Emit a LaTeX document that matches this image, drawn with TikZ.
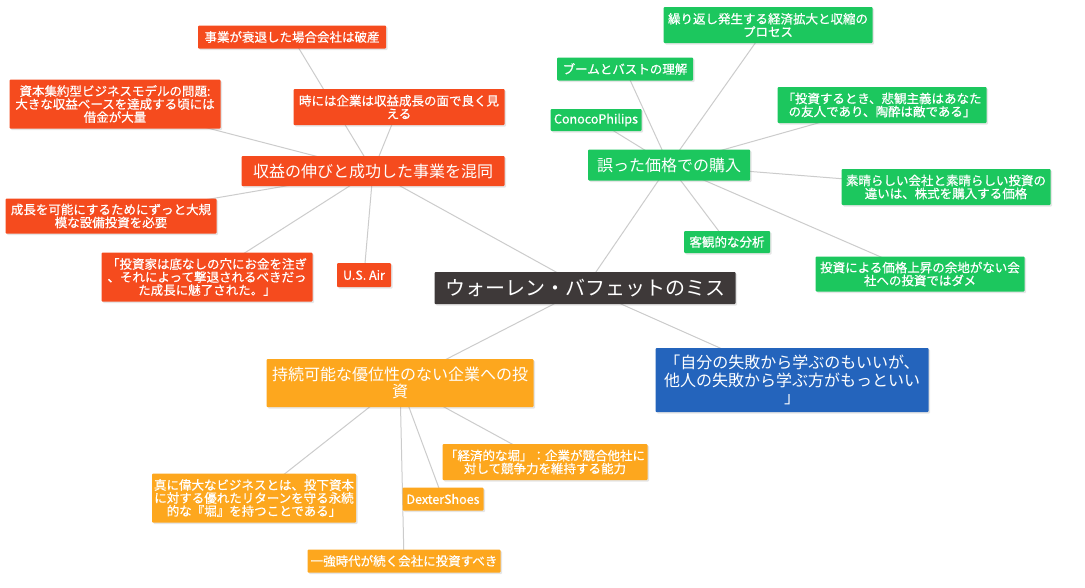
\documentclass[tikz,border=0pt]{standalone}
\usepackage{fontspec}
\setmainfont{Noto Sans CJK JP}
\newfontfamily\leaffont[FakeBold=0.6,AutoFakeBold=0.6]{Noto Sans CJK JP}
\usepackage{tikz}
\usetikzlibrary{shadows,backgrounds}
\definecolor{rootgray}{RGB}{62,57,57}
\definecolor{redtopic}{RGB}{245,75,30}
\definecolor{greentopic}{RGB}{28,199,94}
\definecolor{orangetopic}{RGB}{253,167,30}
\definecolor{bluetopic}{RGB}{36,100,188}
\definecolor{linkgray}{RGB}{204,204,204}
\tikzstyle{box}       = [rectangle, rounded corners=1pt, text=white, align=center, inner sep=0pt, drop shadow={shadow xshift=1.5pt, shadow yshift=-1.5pt, opacity=0.2}]
\tikzstyle{root}      = [box, fill=rootgray, font=\fontsize{20}{24}\selectfont]
\tikzstyle{main}      = [box, font=\fontsize{16}{17.5}\selectfont]
\tikzstyle{leaf}      = [box, font=\leaffont\bfseries\fontsize{12.5}{13}\selectfont]
\tikzstyle{link}      = [draw=linkgray, line width=1pt]

\begin{document}
\begin{tikzpicture}[x=1pt,y=-1pt]
        \useasboundingbox (0,0) rectangle (1085,587);

        \node[root, minimum width=301pt, minimum height=32pt] (root) at (585,288) {ウォーレン・バフェットのミス};

        \node[main, fill=redtopic, minimum width=263pt, minimum height=30pt] (conf) at (373,171) {収益の伸びと成功した事業を混同};
        \node[main, fill=greentopic, minimum width=162pt, minimum height=31pt] (price) at (669,165) {誤った価格での購入};
        \node[main, fill=orangetopic, minimum width=267pt, minimum height=48pt] (moat) at (400,383) {持続可能な優位性のない企業への投\\資};
        \node[main, fill=bluetopic, minimum width=273pt, minimum height=64pt] (quote) at (792,380) {「自分の失敗から学ぶのもいいが、\\他人の失敗から学ぶ方がもっといい\\」};

        \node[leaf, fill=redtopic, minimum width=188pt, minimum height=23pt] (decline) at (292,37) {事業が衰退した場合会社は破産};
        \node[leaf, fill=redtopic, minimum width=211pt, minimum height=36pt] (looksgood) at (399,107) {時には企業は収益成長の面で良く見\\える};
        \node[leaf, fill=redtopic, minimum width=211pt, minimum height=49pt] (capital) at (115,104) {資本集約型ビジネスモデルの問題:\\大きな収益ベースを達成する頃には\\借金が大量};
        \node[leaf, fill=redtopic, minimum width=211pt, minimum height=35pt] (capex) at (111,216) {成長を可能にするためにずっと大規\\模な設備投資を必要};
        \node[leaf, fill=redtopic, minimum width=211pt, minimum height=49pt] (holes) at (207,277) {「投資家は底なしの穴にお金を注ぎ\\、それによって撃退されるべきだっ\\た成長に魅了された。」};
        \node[leaf, fill=redtopic, minimum width=54pt, minimum height=24pt] (usair) at (364,275) {U.S. Air};

        \node[leaf, fill=greentopic, minimum width=209pt, minimum height=36pt] (cycle) at (768,25) {繰り返し発生する経済拡大と収縮の\\プロセス};
        \node[leaf, fill=greentopic, minimum width=136pt, minimum height=23pt] (boom) at (625,69) {ブームとバストの理解};
        \node[leaf, fill=greentopic, minimum width=91pt, minimum height=22pt] (conoco) at (596,120) {ConocoPhilips};
        \node[leaf, fill=greentopic, minimum width=209pt, minimum height=36pt] (pessim) at (882,105) {「投資するとき、悲観主義はあなた\\の友人であり、陶酔は敵である」};
        \node[leaf, fill=greentopic, minimum width=209pt, minimum height=36pt] (wonder) at (946,187) {素晴らしい会社と素晴らしい投資の\\違いは、株式を購入する価格};
        \node[leaf, fill=greentopic, minimum width=86pt, minimum height=22pt] (objective) at (727,242) {客観的な分析};
        \node[leaf, fill=greentopic, minimum width=209pt, minimum height=35pt] (noroom) at (920,274) {投資による価格上昇の余地がない会\\社への投資ではダメ};

        \node[leaf, fill=orangetopic, minimum width=204pt, minimum height=49pt] (truly) at (254,498) {真に偉大なビジネスとは、投下資本\\に対する優れたリターンを守る永続\\的な『堀』を持つことである」};
        \node[leaf, fill=orangetopic, minimum width=81pt, minimum height=23pt] (dexter) at (443,499) {DexterShoes};
        \node[leaf, fill=orangetopic, minimum width=205pt, minimum height=36pt] (econmoat) at (545,462) {「経済的な堀」：企業が競合他社に\\対して競争力を維持する能力};
        \node[leaf, fill=orangetopic, minimum width=193pt, minimum height=23pt] (dominant) at (404,561) {一強時代が続く会社に投資すべき};

        \begin{scope}[on background layer]
        \fill[white] (0,0) rectangle (1085,587);
        \draw[link] (root.center) -- (conf.center);
        \draw[link] (root.center) -- (price.center);
        \draw[link] (root.center) -- (moat.center);
        \draw[link] (root.center) -- (quote.center);

        \draw[link] (conf.center) -- (decline.center);
        \draw[link] (conf.center) -- (looksgood.center);
        \draw[link] (conf.center) -- (capital.center);
        \draw[link] (conf.center) -- (capex.center);
        \draw[link] (conf.center) -- (holes.center);
        \draw[link] (conf.center) -- (usair.center);

        \draw[link] (price.center) -- (cycle.center);
        \draw[link] (price.center) -- (boom.center);
        \draw[link] (price.center) -- (conoco.center);
        \draw[link] (price.center) -- (pessim.center);
        \draw[link] (price.center) -- (wonder.center);
        \draw[link] (price.center) -- (objective.center);
        \draw[link] (price.center) -- (noroom.center);

        \draw[link] (moat.center) -- (truly.center);
        \draw[link] (moat.center) -- (dexter.center);
        \draw[link] (moat.center) -- (econmoat.center);
        \draw[link] (moat.center) -- (dominant.center);
        \end{scope}
    \end{tikzpicture}
\end{document}
